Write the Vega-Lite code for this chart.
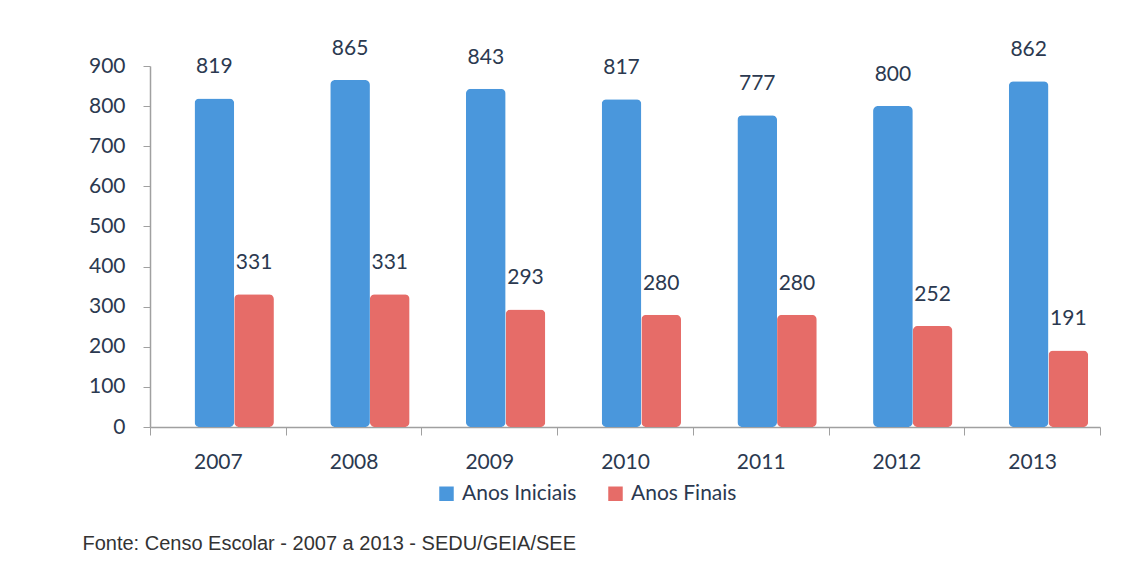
{
  "$schema": "https://vega.github.io/schema/vega-lite/v6.json",
  "width": 950,
  "height": 361,
  "autosize": {"type": "none"},
  "padding": {"left": 150, "top": 66, "right": 37, "bottom": 143},
  "background": "white",
  "title": {
    "text": "Fonte: Censo Escolar - 2007 a 2013 - SEDU/GEIA/SEE",
    "orient": "bottom",
    "anchor": "start",
    "dx": -6,
    "offset": 30,
    "font": "Liberation Sans",
    "fontSize": 20,
    "fontWeight": "normal",
    "color": "#333333"
  },
  "data": {
    "values": [
      {"ano": "2007", "serie": "Anos Iniciais", "valor": 819},
      {"ano": "2007", "serie": "Anos Finais", "valor": 331},
      {"ano": "2008", "serie": "Anos Iniciais", "valor": 865},
      {"ano": "2008", "serie": "Anos Finais", "valor": 331},
      {"ano": "2009", "serie": "Anos Iniciais", "valor": 843},
      {"ano": "2009", "serie": "Anos Finais", "valor": 293},
      {"ano": "2010", "serie": "Anos Iniciais", "valor": 817},
      {"ano": "2010", "serie": "Anos Finais", "valor": 280},
      {"ano": "2011", "serie": "Anos Iniciais", "valor": 777},
      {"ano": "2011", "serie": "Anos Finais", "valor": 280},
      {"ano": "2012", "serie": "Anos Iniciais", "valor": 800},
      {"ano": "2012", "serie": "Anos Finais", "valor": 252},
      {"ano": "2013", "serie": "Anos Iniciais", "valor": 862},
      {"ano": "2013", "serie": "Anos Finais", "valor": 191}
    ]
  },
  "encoding": {
    "x": {
      "field": "ano", "type": "nominal", "title": null,
      "scale": {"paddingInner": 0, "paddingOuter": 0},
      "axis": {
        "labelAngle": 0, "labelFont": "Lato", "labelFontSize": 21, "labelColor": "#2b3950",
        "labelPadding": 16, "domainColor": "#a0a0a0", "tickColor": "#a0a0a0",
        "tickBand": "extent", "tickSize": 8, "domainWidth": 1.5
      }
    },
    "xOffset": {
      "field": "serie", "type": "nominal", "sort": ["Anos Iniciais", "Anos Finais"],
      "scale": {"domain": ["Anos Iniciais", "Anos Finais"], "paddingInner": 0, "paddingOuter": 0.71, "align": 0.79}
    },
    "y": {
      "field": "valor", "type": "quantitative", "title": null,
      "scale": {"domain": [0, 900], "nice": false},
      "axis": {
        "values": [0, 100, 200, 300, 400, 500, 600, 700, 800, 900],
        "grid": false, "labelFont": "Lato", "labelFontSize": 21, "labelColor": "#2b3950",
        "labelPadding": 18, "domainColor": "#a0a0a0", "tickColor": "#a0a0a0",
        "tickSize": 7, "domainWidth": 1.5
      }
    }
  },
  "layer": [
    {
      "mark": {"type": "bar", "cornerRadiusTopLeft": 5, "cornerRadiusTopRight": 5, "cornerRadiusBottomLeft": 5, "cornerRadiusBottomRight": 5},
      "encoding": {
        "color": {
          "field": "serie", "type": "nominal", "title": null,
          "sort": ["Anos Iniciais", "Anos Finais"],
          "scale": {"domain": ["Anos Iniciais", "Anos Finais"], "range": ["#4a97dc", "#e66c68"]},
          "legend": {
            "orient": "none", "direction": "horizontal", "legendX": 286, "legendY": 417,
            "symbolType": "square", "symbolSize": 210, "symbolStrokeWidth": 0,
            "labelFont": "Lato", "labelFontSize": 21, "labelColor": "#2b3950",
            "columnPadding": 28, "labelOffset": 5
          }
        }
      }
    },
    {
      "mark": {"type": "text", "dy": -31, "font": "Lato", "fontSize": 21, "color": "#2b3950"},
      "encoding": {"text": {"field": "valor", "type": "quantitative"}}
    }
  ],
  "config": {"view": {"stroke": null}}
}
